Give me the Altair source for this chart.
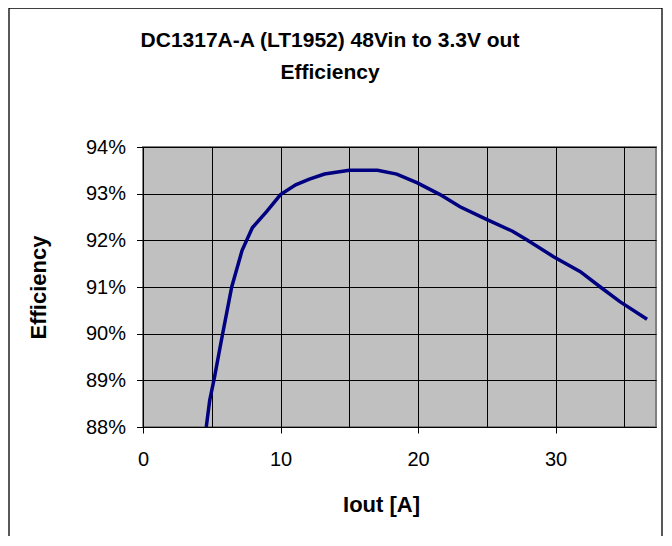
import altair as alt
import pandas as pd

iout = [4.6, 4.85, 5.2, 5.7, 6.45, 7.2, 7.95, 9.0, 10.0, 11.1, 12.1, 13.2, 15.0, 17.05,
        18.45, 19.95, 21.6, 23.05, 24.9, 26.9, 27.9, 29.85, 31.8, 33.25, 34.7, 36.65]
eff_pct = [88.0, 88.57, 89.07, 89.86, 91.0, 91.78, 92.27, 92.62, 92.98, 93.19, 93.31, 93.42,
           93.50, 93.50, 93.42, 93.23, 92.98, 92.72, 92.46, 92.19, 92.01, 91.65, 91.33,
           91.0, 90.68, 90.31]
x_grid = [0, 5, 10, 15, 20, 25, 30, 35]
y_ticks = [0.88, 0.89, 0.90, 0.91, 0.92, 0.93, 0.94]
title_lines = ["DC1317A-A (LT1952) 48Vin to 3.3V out", "Efficiency"]

df = pd.DataFrame({"Iout": iout, "Eff": [v / 100 for v in eff_pct]})

FONT = "Liberation Sans"
W, H = 513, 280

xscale = alt.Scale(domain=[0, 37.3], nice=False, zero=False)
yscale = alt.Scale(domain=[0.88, 0.94], nice=False, zero=False)

one = pd.DataFrame({"k": [0]})

frame = alt.Chart(one).mark_rect(
    fill=None, stroke="black", strokeWidth=1.3, clip=False
).encode(x=alt.value(-134), x2=alt.value(519), y=alt.value(-139), y2=alt.value(460))

t1 = alt.Chart(pd.DataFrame({"t": [title_lines[0]]})).mark_text(
    font=FONT, fontSize=21, fontWeight="bold", color="black", align="center",
    baseline="alphabetic", clip=False
).encode(text="t:N", x=alt.value(187), y=alt.value(-100))

t2 = alt.Chart(pd.DataFrame({"t": [title_lines[1]]})).mark_text(
    font=FONT, fontSize=21, fontWeight="bold", color="black", align="center",
    baseline="alphabetic", clip=False
).encode(text="t:N", x=alt.value(187), y=alt.value(-68))

line = alt.Chart(df).mark_line(color="#000080", strokeWidth=3.5, clip=True).encode(
    x=alt.X("Iout:Q", scale=xscale,
            axis=alt.Axis(
                values=x_grid, grid=True, gridColor="black", gridWidth=1,
                labelExpr="datum.value % 10 == 0 ? datum.label : ''",
                tickOpacity={"condition": {"test": "datum.value % 10 != 0", "value": 0}, "value": 1},
                tickSize=6, tickColor="black", labelPadding=16, labelFlush=False,
                domainColor="black", labelFont=FONT, labelFontSize=20, labelColor="black",
                title="Iout [A]", titleFont=FONT, titleFontSize=22, titleFontWeight="bold",
                titleColor="black", titleX=238, titleY=84, titleBaseline="alphabetic",
                titleAlign="center",
            )),
    y=alt.Y("Eff:Q", scale=yscale,
            axis=alt.Axis(
                values=y_ticks, format=".0%", grid=True, gridColor="black", gridWidth=1,
                tickSize=6.5, tickColor="black", labelPadding=11, domainColor="black",
                labelFont=FONT, labelFontSize=20, labelColor="black",
                title="Efficiency", titleFont=FONT, titleFontSize=22, titleFontWeight="bold",
                titleColor="black", titleAngle=270, titleX=-98, titleY=140,
                titleAlign="center", titleBaseline="alphabetic",
            )),
)

chart = alt.layer(frame, line, t1, t2).properties(
    width=W, height=H,
    autosize=alt.AutoSizeParams(type="none"),
    padding={"left": 135, "top": 139, "right": 8, "bottom": 109},
    background="white",
).configure_view(fill="#C0C0C0", stroke="#808080", strokeWidth=2)

chart.save("out.html", embed_options={"renderer": "svg", "actions": False})
